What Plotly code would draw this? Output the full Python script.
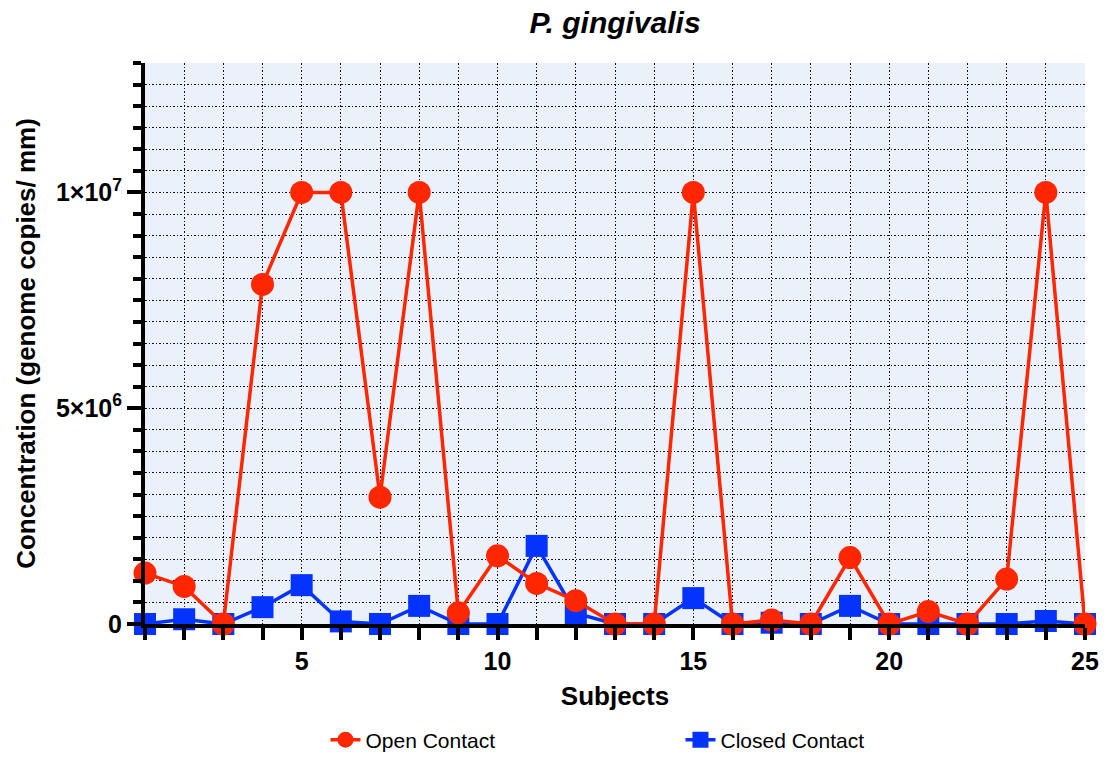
import plotly.graph_objects as go

subjects = list(range(1, 26))
open_contact = [1.18e6, 0.87e6, 0, 7.87e6, 1.0e7, 1.0e7, 2.94e6, 1.0e7, 0.26e6, 1.58e6,
                0.94e6, 0.54e6, 0, 0, 1.0e7, 0, 0.09e6, 0, 1.54e6, 0,
                0.29e6, 0, 1.04e6, 1.0e7, 0]
closed_contact = [0, 0.11e6, 0, 0.39e6, 0.9e6, 0.06e6, 0, 0.42e6, 0, 0,
                  1.81e6, 0.25e6, 0, 0, 0.6e6, 0, 0.03e6, 0, 0.42e6, 0,
                  0, 0, 0, 0.07e6, 0]

y_tickvals = [0, 5e6, 1e7]
y_ticktext = ["<b>0</b>", "<b>5×10<sup>6</sup></b>", "<b>1×10<sup>7</sup></b>"]
x_tickvals = subjects
x_ticktext = [f"<b>{s}</b>" if s % 5 == 0 else "" for s in subjects]

RED = "#FF2600"
BLUE = "#0433FF"
FONT = "Liberation Sans, Arial, sans-serif"
GRID_DASH = "1.5px,2px"

fig = go.Figure()
fig.add_trace(go.Scatter(
    x=subjects, y=closed_contact, name="Closed Contact", mode="lines+markers",
    line=dict(color=BLUE, width=3.5),
    marker=dict(symbol="square", size=22, color=BLUE),
    cliponaxis=False,
))
fig.add_trace(go.Scatter(
    x=subjects, y=open_contact, name="Open Contact", mode="lines+markers",
    line=dict(color=RED, width=3.5),
    marker=dict(symbol="circle", size=23, color=RED),
    cliponaxis=False,
))

fig.update_layout(
    width=1105, height=757,
    margin=dict(l=145, r=20, t=63, b=133, autoexpand=False),
    paper_bgcolor="white",
    plot_bgcolor="#EBF1FA",
    font=dict(family=FONT, color="black"),
    title=dict(text="<b><i>P. gingivalis</i></b>", x=0.5, xref="paper",
               y=1 - 22 / 757, yanchor="middle", font=dict(size=30)),
    showlegend=True,
    legend=dict(orientation="h", x=0.192, xanchor="left",
                yref="container", y=1 - 740 / 757, yanchor="middle",
                font=dict(size=21), entrywidth=310, traceorder="reversed",
                itemsizing="trace"),
)

fig.update_xaxes(
    range=[1, 25], automargin=False,
    tickmode="array", tickvals=x_tickvals, ticktext=x_ticktext,
    ticks="outside", ticklen=12, tickwidth=4, tickcolor="black",
    tickfont=dict(size=25),
    showline=True, linecolor="black", linewidth=4,
    showgrid=True, gridcolor="#111111", gridwidth=1.3, griddash=GRID_DASH,
    zeroline=False,
    title=dict(text="<b>Subjects</b>", font=dict(size=26), standoff=14),
)
fig.update_yaxes(
    range=[0, 1.3e7], automargin=False,
    tickmode="array", tickvals=y_tickvals, ticktext=y_ticktext,
    ticks="outside", ticklen=14, tickwidth=4, tickcolor="black",
    tickfont=dict(size=25),
    showline=True, linecolor="black", linewidth=4,
    showgrid=True, gridcolor="#111111", gridwidth=1.3, griddash=GRID_DASH,
    zeroline=False,
    minor=dict(dtick=5e5, tick0=0, ticks="outside", ticklen=8, tickwidth=4,
               tickcolor="black", showgrid=True, gridcolor="#111111",
               gridwidth=1.3, griddash=GRID_DASH),
    title=dict(text="<b>Concentration (genome copies/ mm)</b>", font=dict(size=26),
               standoff=14),
)

fig.write_html("out.html")
